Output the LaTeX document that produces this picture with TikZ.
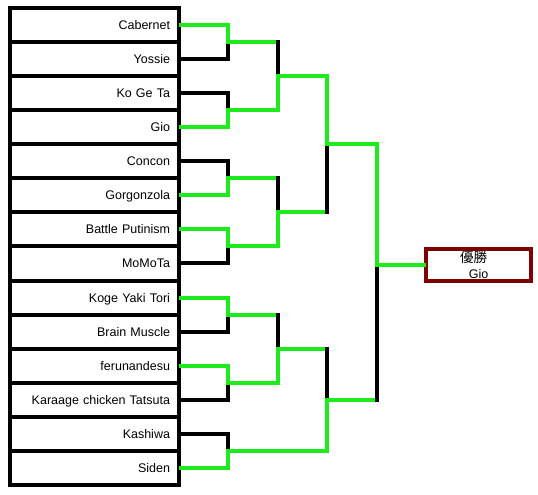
\documentclass[tikz,border=0pt]{standalone}
\usepackage{fontspec}
\setmainfont{Liberation Sans}
\newfontfamily\cjk{Noto Sans CJK JP}
\definecolor{wingreen}{RGB}{30,235,30}
\definecolor{champred}{RGB}{128,0,0}
\begin{document}
\begin{tikzpicture}[x=1pt,y=-1pt,
  entry/.style={draw=black, line width=4pt, rectangle, minimum width=169.5pt,
    minimum height=34.07pt, text width=151.5pt, inner xsep=9pt, inner ysep=0pt,
    align=right, text height=10pt, text depth=1pt, font=\fontsize{12.5}{15}\selectfont},
  champbox/.style={draw=champred, line width=4pt, rectangle, minimum width=105pt,
    minimum height=32pt, inner sep=0pt, align=center, font=\fontsize{12.5}{16}\selectfont},
  win/.style={draw=wingreen, line width=4pt, line cap=rect},
  lose/.style={draw=black, line width=4pt, line cap=rect}]
\useasboundingbox (0,0) rectangle (538,495);
\node[entry] (e1)  at (94.25,25.00)  {Cabernet};
\node[entry] (e2)  at (94.25,59.07)  {Yossie};
\node[entry] (e3)  at (94.25,93.14)  {Ko Ge Ta};
\node[entry] (e4)  at (94.25,127.21) {Gio};
\node[entry] (e5)  at (94.25,161.28) {Concon};
\node[entry] (e6)  at (94.25,195.35) {Gorgonzola};
\node[entry] (e7)  at (94.25,229.42) {Battle Putinism};
\node[entry] (e8)  at (94.25,263.49) {MoMoTa};
\node[entry] (e9)  at (94.25,297.56) {Koge Yaki Tori};
\node[entry] (e10) at (94.25,331.63) {Brain Muscle};
\node[entry] (e11) at (94.25,365.70) {ferunandesu};
\node[entry] (e12) at (94.25,399.77) {Karaage chicken Tatsuta};
\node[entry] (e13) at (94.25,433.84) {Kashiwa};
\node[entry] (e14) at (94.25,467.91) {Siden};
\node[champbox] (champ) at (478.5,265) {{\cjk\fontsize{13.5}{16}\selectfont 優勝}\hspace*{10pt}\\Gio};
% junctions
\coordinate (m1) at (228,42.04);
\coordinate (m2) at (228,110.18);
\coordinate (m3) at (228,178.32);
\coordinate (m4) at (228,246.46);
\coordinate (m5) at (228,314.60);
\coordinate (m6) at (228,382.74);
\coordinate (m7) at (228,450.88);
\coordinate (A) at (278,76.11);
\coordinate (B) at (278,212.39);
\coordinate (C) at (278,348.67);
\coordinate (E) at (327,144.25);
\coordinate (F) at (327,399.78);
\coordinate (G) at (377,265);
% round 1
\draw[win] (e1.east) -| (m1);  \draw[lose] (e2.east) -| (m1);
\draw[lose] (e3.east) -| (m2); \draw[win] (e4.east) -| (m2);
\draw[lose] (e5.east) -| (m3); \draw[win] (e6.east) -| (m3);
\draw[lose] (e8.east) -| (m4); \draw[win] (e7.east) -| (m4);
\draw[lose] (e10.east) -| (m5); \draw[win] (e9.east) -| (m5);
\draw[lose] (e12.east) -| (m6); \draw[win] (e11.east) -| (m6);
\draw[lose] (e13.east) -| (m7); \draw[win] (e14.east) -| (m7);
% round 2
\draw[win] (m1) -- (m1 -| A); \draw[lose] (m1 -| A) -- (A);
\draw[win] (m2) -| (A);
\draw[win] (m3) -- (m3 -| B); \draw[lose] (m3 -| B) -- (B);
\draw[win] (m4) -| (B);
\draw[win] (m5) -- (m5 -| C); \draw[lose] (m5 -| C) -- (C);
\draw[win] (m6) -| (C);
% round 3
\draw[win] (B) -- (B -| E); \draw[lose] (B -| E) -- (E);
\draw[win] (A) -| (E);
\draw[win] (C) -- (C -| F); \draw[lose] (C -| F) -- (F);
\draw[win] (m7) -| (F);
% final
\draw[win] (F) -- (F -| G); \draw[lose] (F -| G) -- (G);
\draw[win] (E) -| (G);
\draw[win] (G) -- (champ.west);
\end{tikzpicture}
\end{document}
